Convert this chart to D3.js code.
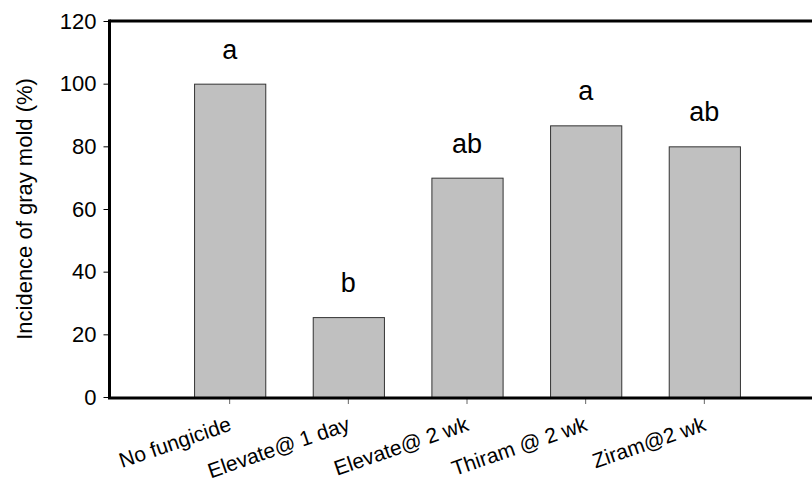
<!DOCTYPE html>
<html>
<head>
<meta charset="utf-8">
<script src="https://cdn.jsdelivr.net/npm/d3@7"></script>
<style>
  body { margin: 0; background: #fff; }
  svg { display: block; }
</style>
</head>
<body>
<svg id="chart" width="812" height="481"></svg>
<script>
// data
let treatments = ["No fungicide", "Elevate@ 1 day", "Elevate@ 2 wk", "Thiram @ 2 wk", "Ziram@2 wk"];
let incidence = [100, 25.5, 70, 86.7, 80];
let letters = ["a", "b", "ab", "a", "ab"];
let yTicks = [0, 20, 40, 60, 80, 100, 120];

function drawChart() {
    let canvas = d3.select("#chart");

    let left = 111;
    let right = 823;
    let top = 21;
    let bottom = 397;
    let font = "Arial, 'Liberation Sans', sans-serif";

    let x = d3.scaleBand()
        .domain(treatments)
        .range([left, right])
        .paddingInner(0.4)
        .paddingOuter(0.7);
    let y = d3.scaleLinear()
        .domain([0, 120])
        .range([bottom, top]);

    let data = treatments.map((t, i) => {
        return { name: t, value: incidence[i], letter: letters[i] };
    });

    // bars
    canvas.selectAll(".bar")
        .data(data)
        .enter()
        .append("rect")
        .attr("class", "bar")
        .attr("x", d => x(d.name) + 0.5)
        .attr("y", d => y(d.value) + 0.5)
        .attr("width", x.bandwidth())
        .attr("height", d => bottom - y(d.value))
        .style("fill", "#c0c0c0")
        .style("stroke", "#333")
        .style("stroke-width", 1);

    // significance letters
    canvas.selectAll(".letter")
        .data(data)
        .enter()
        .append("text")
        .attr("class", "letter")
        .attr("x", d => x(d.name) + x.bandwidth() / 2)
        .attr("y", d => y(d.value) - 25)
        .attr("text-anchor", "middle")
        .attr("font-family", font)
        .attr("font-size", "27px")
        .attr("fill", "#000")
        .text(d => d.letter);

    // top frame line
    canvas.append("line")
        .attr("x1", left - 1.5)
        .attr("x2", 812)
        .attr("y1", top)
        .attr("y2", top)
        .style("stroke", "#000")
        .style("stroke-width", 3);

    // y axis
    let yAxis = d3.axisLeft(y)
        .tickValues(yTicks)
        .tickSize(6)
        .tickPadding(7);
    let yg = canvas.append("g")
        .attr("transform", "translate(" + (left - 1.5) + ",0)")
        .call(yAxis);
    yg.select(".domain").remove();
    yg.selectAll("line").style("stroke", "#000").style("stroke-width", 1);
    yg.selectAll("text")
        .attr("font-family", font)
        .attr("font-size", "22px")
        .attr("fill", "#000");
    canvas.append("line")
        .attr("x1", left - 1.5)
        .attr("x2", left - 1.5)
        .attr("y1", top - 1.5)
        .attr("y2", bottom + 1.5)
        .style("stroke", "#000")
        .style("stroke-width", 3);

    // x axis
    let xAxis = d3.axisBottom(x)
        .tickSize(6)
        .tickSizeOuter(0);
    let xg = canvas.append("g")
        .attr("transform", "translate(0," + (bottom + 1) + ")")
        .call(xAxis);
    xg.select(".domain").remove();
    xg.selectAll("line").style("stroke", "#666").style("stroke-width", 1);
    xg.selectAll("text")
        .attr("font-family", font)
        .attr("font-size", "21px")
        .attr("fill", "#000")
        .style("text-anchor", "end")
        .attr("x", 3)
        .attr("y", 0)
        .attr("dy", 0)
        .attr("transform", "translate(0,33) rotate(-19)");
    canvas.append("line")
        .attr("x1", left - 3)
        .attr("x2", 812)
        .attr("y1", bottom + 1)
        .attr("y2", bottom + 1)
        .style("stroke", "#000")
        .style("stroke-width", 3);

    // y label
    canvas.append("text")
        .attr("text-anchor", "middle")
        .attr("transform", "translate(32," + ((top + bottom) / 2) + ") rotate(-90)")
        .attr("font-family", font)
        .attr("font-size", "22px")
        .attr("fill", "#000")
        .text("Incidence of gray mold (%)");
}

drawChart();
</script>
</body>
</html>
